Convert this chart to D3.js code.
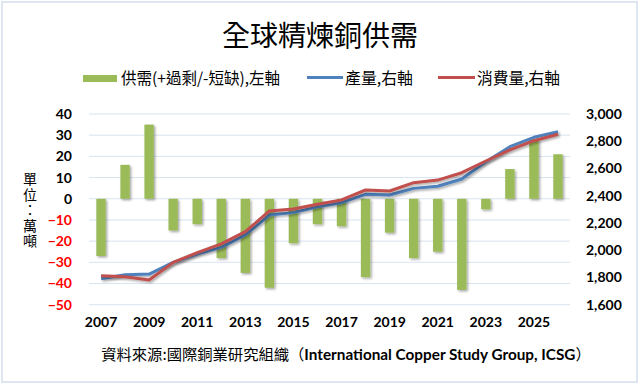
<!DOCTYPE html>
<html><head><meta charset="utf-8">
<script src="https://cdn.jsdelivr.net/npm/d3@7"></script>
<style>body{margin:0;background:#fff}svg{display:block}</style>
</head><body>
<svg id="c" width="640" height="386"></svg>
<script>
const years = [2007,2008,2009,2010,2011,2012,2013,2014,2015,2016,2017,2018,2019,2020,2021,2022,2023,2024,2025,2026];
const balance = [-27,16,35,-15,-12,-28,-35,-42,-21,-12,-13,-37,-16,-28,-25,-43,-5,14,28,21];
const production = [1790,1820,1825,1911,1972,2021,2112,2258,2276,2319,2349,2410,2405,2454,2470,2523,2650,2760,2829,2870];
const consumption = [1813,1806,1781,1911,1982,2046,2136,2288,2303,2337,2369,2442,2435,2496,2515,2569,2655,2736,2804,2851];
const leftTicks = [40,30,20,10,0,-10,-20,-30,-40,-50];
const rightTicks = [3000,2800,2600,2400,2200,2000,1800,1600];
const xLabels = [2007,2009,2011,2013,2015,2017,2019,2021,2023,2025];

const svg = d3.select("#c");
const L = 89, R = 570, T = 114, B = 304.7;
const CJK = "'Noto Sans CJK TC','Noto Sans CJK SC',sans-serif";
const NUM = "Lato,'Open Sans',sans-serif";

// border
svg.append("rect").attr("x",2).attr("y",2).attr("width",635).attr("height",380)
  .attr("fill","#fff").attr("stroke","#dde6f1").attr("stroke-width",2);

const defs = svg.append("defs");
const f = defs.append("filter").attr("id","sh").attr("x","-20%").attr("y","-20%").attr("width","140%").attr("height","140%");
f.append("feDropShadow").attr("dx",1.5).attr("dy",1.5).attr("stdDeviation",1).attr("flood-color","#000").attr("flood-opacity",0.35);

const x = d3.scaleBand().domain(years).range([L,R]).paddingInner(0.61).paddingOuter(0.305);
const xc = d => x(d) + x.bandwidth()/2;
const yL = d3.scaleLinear().domain([-50,40]).range([B,T]);
const yR = d3.scaleLinear().domain([1600,3000]).range([B,T]);

// gridlines
svg.append("g").selectAll("line").data(leftTicks).join("line")
  .attr("x1",L).attr("x2",R).attr("y1",d=>yL(d)).attr("y2",d=>yL(d))
  .attr("stroke","#d9e3f1").attr("stroke-width",1);

// bars
svg.append("g").attr("filter","url(#sh)").selectAll("rect").data(years).join("rect")
  .attr("x",d=>x(d)).attr("width",x.bandwidth())
  .attr("y",(d,i)=>yL(Math.max(0,balance[i])))
  .attr("height",(d,i)=>Math.abs(yL(balance[i])-yL(0)))
  .attr("fill","#9bbb59");

// lines
const line = d3.line().x((d,i)=>xc(years[i])).y(d=>yR(d));
[[production,"#4f81bd"],[consumption,"#c0504d"]].forEach(([data,col])=>{
  svg.append("path").datum(data).attr("d",line).attr("fill","none")
    .attr("stroke",col).attr("stroke-width",3).attr("stroke-linejoin","round")
    .attr("filter","url(#sh)");
});

// left axis
const la = svg.append("g").attr("transform",`translate(${L-17},0)`)
  .call(d3.axisLeft(yL).tickValues(leftTicks).tickSize(0).tickPadding(0));
la.select(".domain").remove();
la.selectAll("text").attr("font-family",NUM).attr("font-weight","bold").attr("font-size",14)
  .attr("fill",d=>d<0?"#ff0000":"#000");

// right axis
const ra = svg.append("g").attr("transform",`translate(${R+16},0)`)
  .call(d3.axisRight(yR).tickValues(rightTicks).tickSize(0).tickPadding(0).tickFormat(d3.format(",")));
ra.select(".domain").remove();
ra.selectAll("text").attr("font-family",NUM).attr("font-weight","bold").attr("font-size",14).attr("fill","#000");

// x axis
const xa = svg.append("g").attr("transform",`translate(0,${B+12})`)
  .call(d3.axisBottom(x).tickValues(xLabels).tickSize(0).tickPadding(0));
xa.select(".domain").remove();
xa.selectAll("text").attr("font-family",NUM).attr("font-weight","bold").attr("font-size",14).attr("fill","#000");

// title
svg.append("text").attr("x",320).attr("y",46).attr("text-anchor","middle")
  .attr("font-family",CJK).attr("font-size",28).attr("fill","#000").text("全球精煉銅供需");

// legend
const lg = svg.append("g").attr("font-family",CJK).attr("font-size",16).attr("fill","#000");
lg.append("rect").attr("x",83).attr("y",75).attr("width",34).attr("height",7).attr("fill","#9bbb59");
lg.append("text").attr("x",121).attr("y",84).attr("textLength",159).attr("lengthAdjust","spacingAndGlyphs").text("供需(+過剩/-短缺),左軸");
lg.append("line").attr("x1",307).attr("x2",343).attr("y1",77.5).attr("y2",77.5).attr("stroke","#4f81bd").attr("stroke-width",3);
lg.append("text").attr("x",345).attr("y",84).attr("textLength",68).attr("lengthAdjust","spacingAndGlyphs").text("產量,右軸");
lg.append("line").attr("x1",438).attr("x2",475).attr("y1",77.5).attr("y2",77.5).attr("stroke","#c0504d").attr("stroke-width",3);
lg.append("text").attr("x",477).attr("y",84).attr("textLength",83).attr("lengthAdjust","spacingAndGlyphs").text("消費量,右軸");

// y label (vertical)
svg.append("text").attr("x",30).attr("y",172)
  .attr("writing-mode","vertical-rl").attr("letter-spacing",1.5)
  .attr("font-family",CJK).attr("font-size",14).attr("fill","#000").text("單位：萬噸");

// source
const src = svg.append("text").attr("x",346).attr("y",360).attr("text-anchor","middle")
  .attr("font-family",CJK).attr("font-size",15.3).attr("fill","#000");
src.append("tspan").text("資料來源:國際銅業研究組織（");
src.append("tspan").attr("font-family",NUM).attr("font-weight","bold").text("International Copper Study Group, ICSG");
src.append("tspan").text("）");
</script>
</body></html>
